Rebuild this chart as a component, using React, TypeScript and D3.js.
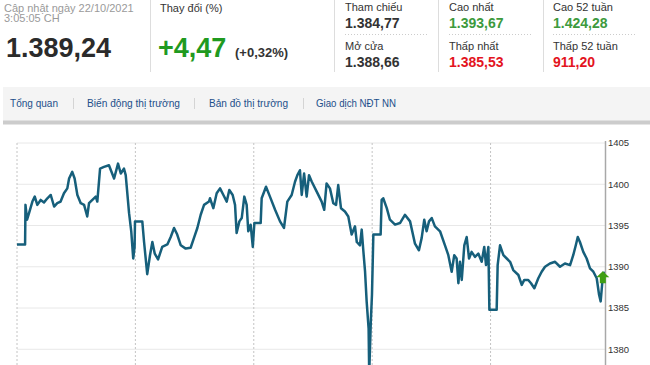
import React from "react";
import * as d3 from "d3";

// Intraday index values: minutes since open, index level
const minutes = [0, 4.1, 4.3, 5.1, 6.1, 7.8, 9.0, 10.3, 12.0, 13.7, 15.4, 17.1, 18.8, 20.4, 22.1, 23.8, 25.5, 26.4, 28.0, 29.2, 30.6, 32.3, 34.0, 35.6, 36.5, 38.2, 39.9, 40.7, 42.1, 44.1, 46.6, 49.2, 51.2, 52.6, 54.2, 55.1, 56.8, 57.9, 58.9, 59.6, 59.8, 63.5, 64.4, 66.0, 67.4, 68.6, 69.8, 71.5, 73.6, 76.2, 77.9, 79.6, 81.2, 83.0, 85.5, 88.0, 89.7, 91.4, 93.1, 94.8, 97.3, 97.8, 99.5, 101.2, 102.9, 104.6, 106.3, 107.6, 109.3, 110.5, 111.3, 112.7, 113.9, 115.2, 116.4, 117.2, 118.4, 119.5, 120.3, 123.5, 124.0, 126.2, 128.2, 130.8, 133.3, 135.3, 137.0, 139.2, 140.9, 142.1, 143.4, 144.3, 145.5, 146.8, 148.0, 149.4, 151.9, 154.4, 155.7, 156.9, 158.6, 160.3, 161.7, 162.8, 164.2, 166.2, 167.9, 169.6, 171.3, 172.2, 173.8, 174.7, 175.5, 176.4, 177.2, 178.2, 178.5, 179.3, 179.9, 180.6, 184.3, 184.8, 185.6, 187.4, 189.0, 191.6, 194.1, 196.6, 199.2, 201.7, 203.7, 205.1, 206.4, 207.6, 208.8, 210.2, 211.8, 214.4, 216.9, 218.6, 220.3, 221.6, 222.8, 223.7, 224.5, 225.4, 226.7, 227.9, 229.1, 230.4, 232.1, 233.8, 235.5, 236.8, 237.7, 238.9, 239.4, 243.1, 243.6, 244.8, 246.5, 248.2, 249.9, 251.5, 254.1, 255.8, 257.1, 259.1, 260.5, 262.2, 264.2, 265.9, 267.6, 270.1, 272.7, 275.2, 277.7, 280.3, 281.9, 283.2, 284.2, 285.3, 287.0, 288.7, 290.4, 292.1, 293.8, 295.0, 295.8, 296.6, 297.4];
const values = [1392.7, 1392.7, 1397.5, 1395.7, 1396.5, 1397.9, 1398.5, 1397.5, 1398.1, 1397.8, 1398.3, 1398.7, 1397.3, 1397.7, 1397.9, 1398.9, 1399.5, 1400.7, 1401.5, 1400.7, 1398.7, 1397.7, 1397.5, 1396.1, 1397.7, 1398.1, 1398.5, 1397.9, 1401.9, 1402.1, 1402.3, 1400.7, 1402.5, 1401.3, 1401.9, 1401.1, 1396.5, 1394.3, 1391.0, 1392.4, 1395.5, 1395.5, 1393.0, 1389.1, 1391.4, 1393.0, 1391.6, 1390.9, 1392.4, 1392.7, 1393.6, 1394.7, 1393.9, 1392.6, 1392.2, 1392.3, 1393.5, 1394.7, 1396.3, 1397.5, 1397.9, 1398.3, 1397.1, 1398.9, 1399.5, 1398.7, 1397.9, 1399.3, 1398.7, 1397.5, 1394.1, 1395.5, 1395.9, 1398.5, 1397.5, 1394.3, 1395.1, 1392.4, 1395.3, 1395.3, 1398.3, 1399.7, 1398.5, 1396.9, 1395.5, 1394.7, 1397.9, 1398.7, 1400.3, 1401.1, 1401.7, 1398.7, 1401.3, 1398.5, 1401.1, 1400.3, 1399.1, 1397.9, 1396.9, 1400.1, 1399.5, 1397.7, 1397.5, 1399.9, 1397.1, 1396.7, 1396.1, 1393.9, 1394.9, 1393.0, 1392.6, 1394.5, 1392.0, 1389.4, 1385.8, 1382.5, 1377.0, 1383.3, 1386.6, 1393.9, 1393.9, 1398.1, 1398.3, 1397.1, 1395.7, 1395.1, 1395.3, 1396.3, 1395.5, 1392.8, 1392.0, 1393.5, 1395.7, 1394.3, 1395.5, 1395.9, 1394.9, 1394.3, 1392.6, 1391.4, 1389.4, 1391.4, 1391.0, 1388.0, 1390.6, 1388.4, 1392.6, 1393.6, 1391.0, 1391.8, 1391.2, 1391.6, 1390.6, 1392.4, 1390.2, 1392.4, 1384.8, 1384.8, 1390.2, 1392.6, 1391.4, 1391.0, 1390.6, 1389.6, 1389.0, 1387.8, 1388.4, 1388.4, 1388.0, 1387.4, 1388.6, 1389.4, 1390.0, 1390.4, 1390.6, 1390.0, 1390.4, 1390.2, 1391.4, 1392.6, 1393.6, 1393.0, 1391.8, 1391.0, 1389.8, 1389.4, 1388.6, 1386.6, 1385.8, 1388.0, 1389.4];

const yTicks = [1380, 1385, 1390, 1395, 1400, 1405];
const timeGrid = [0, 60, 120, 180, 240];

const navItems = ["Tổng quan", "Biến động thị trường", "Bản đồ thị trường", "Giao dịch NĐT NN"];
const statLabels = ["Tham chiếu", "Mở cửa", "Cao nhất", "Thấp nhất", "Cao 52 tuần", "Thấp 52 tuần"];
const statValues = ["1.384,77", "1.388,66", "1.393,67", "1.385,53", "1.424,28", "911,20"];
const statColors = ["#333333", "#333333", "#3d9a3d", "#e3141e", "#3d9a3d", "#e3141e"];

const FONT = "Arial, 'Liberation Sans', sans-serif";

export default function App() {
  const x = d3.scaleLinear().domain([0, 298]).range([17, 605]);
  const y = d3.scaleLinear().domain([1375, 1405]).range([390.5, 143]);
  const pts: [number, number][] = minutes.map((m, i) => [m, values[i]]);
  const line = d3
    .line<[number, number]>()
    .x((d) => x(d[0]))
    .y((d) => y(d[1]));

  const lastX = x(minutes[minutes.length - 1]);
  const lastY = y(values[values.length - 1]);
  const ax = lastX - 1;
  const ay = lastY - 0.5;
  const arrow = [
    [ax, ay],
    [ax + 6.5, ay + 6],
    [ax + 3, ay + 6],
    [ax + 3, ay + 12],
    [ax - 3, ay + 12],
    [ax - 3, ay + 6],
    [ax - 6.5, ay + 6],
  ]
    .map((p) => p.join(","))
    .join(" ");

  const navX = [10, 87, 209, 316];
  const navW = [48, 93, 79, 80];
  const navSep = [73, 194, 303];
  const colX = [345, 449, 553];

  return (
    <svg
      width={650}
      height={365}
      style={{ position: "absolute", left: 0, top: 0, background: "#fff" }}
      fontFamily={FONT}
    >
      {/* header left */}
      <text x={4} y={11.5} fontSize={11} fill="#9a9a9a">Cập nhật ngày 22/10/2021</text>
      <text x={4} y={22} fontSize={11} fill="#9a9a9a">3:05:05 CH</text>
      <text x={6} y={57} fontSize={27} fontWeight="bold" fill="#2b2b2b">1.389,24</text>
      <line x1={150.5} x2={150.5} y1={0} y2={72} stroke="#dddddd" />
      <text x={160} y={11.5} fontSize={11} fill="#333">Thay đổi (%)</text>
      <text x={158} y={57} fontSize={27} fontWeight="bold" fill="#1f9a1f">+4,47</text>
      <text x={235} y={57} fontSize={13} fontWeight="bold" fill="#333">(+0,32%)</text>

      {/* stat blocks */}
      {[334.5, 438.5, 543.5].map((sx, i) => (
        <line key={"s" + i} x1={sx} x2={sx} y1={0} y2={72} stroke="#dddddd" />
      ))}
      {colX.map((cx, c) => (
        <g key={"c" + c}>
          <text x={cx} y={11} fontSize={11} fill="#333">{statLabels[c * 2]}</text>
          <text x={cx} y={28} fontSize={14} fontWeight="bold" fill={statColors[c * 2]}>{statValues[c * 2]}</text>
          <line x1={cx} x2={cx + 84} y1={34.5} y2={34.5} stroke="#cccccc" strokeDasharray="1,2" />
          <text x={cx} y={50} fontSize={11} fill="#333">{statLabels[c * 2 + 1]}</text>
          <text x={cx} y={67} fontSize={14} fontWeight="bold" fill={statColors[c * 2 + 1]}>{statValues[c * 2 + 1]}</text>
        </g>
      ))}

      {/* nav bar */}
      <rect x={3} y={87} width={647} height={34} fill="#f4f4f4" />
      <rect x={3} y={120.5} width={647} height={4} fill="#cccccc" />
      {navItems.map((t, i) => (
        <text key={t} x={navX[i]} y={107} fontSize={11} fill="#1d4f8a" textLength={navW[i]} lengthAdjust="spacingAndGlyphs">{t}</text>
      ))}
      {navSep.map((sx, i) => (
        <line key={"n" + i} x1={sx + 0.5} x2={sx + 0.5} y1={98} y2={109} stroke="#d4d4d4" />
      ))}

      {/* chart grid */}
      {yTicks.map((t) => (
        <line key={"g" + t} x1={17} x2={605} y1={y(t)} y2={y(t)} stroke="#e8e8e8" strokeWidth={1} />
      ))}
      {timeGrid.map((m) => (
        <line key={"v" + m} x1={x(m)} x2={x(m)} y1={143} y2={365} stroke="#c4c4c4" strokeDasharray="2,2" />
      ))}
      <line x1={605.5} x2={605.5} y1={141} y2={365} stroke="#a8a8a8" strokeWidth={1.5} />
      {yTicks.map((t) => (
        <text key={"t" + t} x={608} y={y(t)} dy="0.35em" fontSize={9.5} fill="#333">{t}</text>
      ))}

      <path d={line(pts) || ""} fill="none" stroke="#165f7b" strokeWidth={2.5} strokeLinejoin="round" />
      <polygon points={arrow} fill="#3f9e14" />
    </svg>
  );
}
